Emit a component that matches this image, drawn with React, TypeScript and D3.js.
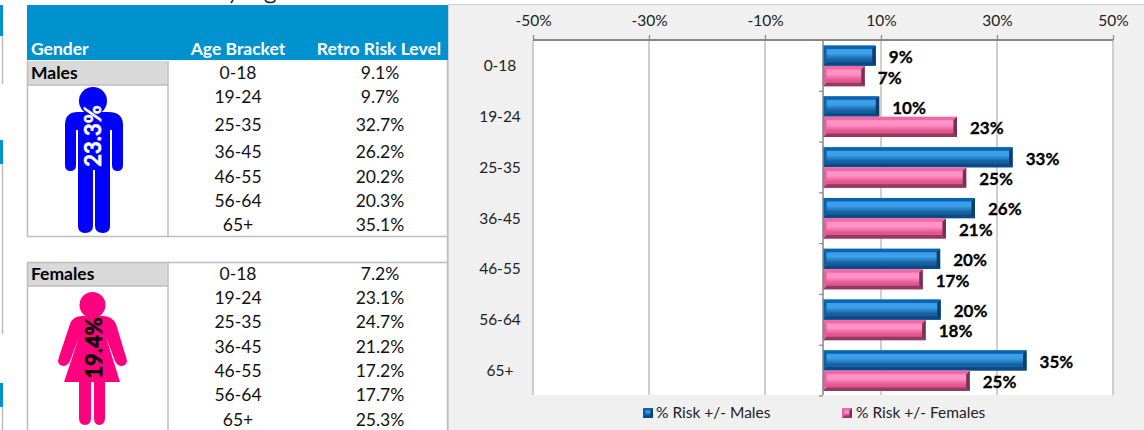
import { useEffect, useRef } from 'react'
import * as d3 from 'd3'

const ageBrackets = ['0-18', '19-24', '25-35', '36-45', '46-55', '56-64', '65+']
const malesRisk = [9.1, 9.7, 32.7, 26.2, 20.2, 20.3, 35.1]
const femalesRisk = [7.2, 23.1, 24.7, 21.2, 17.2, 17.7, 25.3]
const xTicks = [-50, -30, -10, 10, 30, 50]
const seriesNames = ['% Risk +/- Males', '% Risk +/- Females']
const headers = ['Gender', 'Age Bracket', 'Retro Risk Level']

// table row centres, the source spacing is uneven
const maleRowY = [73, 97, 125, 152, 177, 201, 225]
const femaleRowY = [274, 298, 322, 347, 371, 395, 420]

const FONT = 'Lato, "Open Sans", sans-serif'
const GRID = '#bfbfbf'
const TABLE_LINE = '#bdbdbd'
const HEADER_BLUE = '#0092cf'

const x = d3.scaleLinear().domain([-50, 50]).range([533, 1113])
const y0 = d3.scaleBand().domain(ageBrackets).range([40.5, 396]).paddingInner(0.19).paddingOuter(0.095)
const y1 = d3.scaleBand().domain(seriesNames).range([0, y0.bandwidth()]).padding(0.012)

const palettes = {
  male: { top: '#0d62ae', hi: '#3a9fea', lo: '#14609f', bottom: '#0b4a86', side: '#0a3c6c', left: '#0f5fa6', id: 'faceBlue' },
  female: { top: '#ee6aa6', hi: '#ff93c8', lo: '#e4558f', bottom: '#8f3a62', side: '#74304f', left: '#e0629a', id: 'facePink' },
}

function Bar({ left, right, top, h, p }: any) {
  const b = Math.min(3.5, h / 4)
  const pts = (a: number[][]) => a.map(d => d.join(',')).join(' ')
  return (
    <g filter="url(#soft)">
      <rect x={left} y={top} width={right - left} height={h} fill={`url(#${p.id})`} />
      <polygon points={pts([[left, top], [right, top], [right - b, top + b], [left + b, top + b]])} fill={p.top} />
      <polygon points={pts([[left, top + h], [right, top + h], [right - b, top + h - b], [left + b, top + h - b]])} fill={p.bottom} />
      <polygon points={pts([[right, top], [right, top + h], [right - b, top + h - b], [right - b, top + b]])} fill={p.side} />
      <polygon points={pts([[left, top], [left, top + h], [left + b, top + h - b], [left + b, top + b]])} fill={p.left} />
    </g>
  )
}

function Gradient({ p }: any) {
  return (
    <linearGradient id={p.id} x1="0" y1="0" x2="0" y2="1">
      <stop offset="0.2" stopColor={p.hi} />
      <stop offset="0.4" stopColor={p.hi} />
      <stop offset="0.7" stopColor={p.lo} />
    </linearGradient>
  )
}

function MaleIcon() {
  return (
    <g fill="#0000ff">
      <circle cx={93} cy={101} r={14} />
      <path d="M78 112H108Q123 112 123 125V165Q123 171 117.500 171Q112 171 112 165V130H110V226Q110 233 103 233Q95 233 95 226V170H93V226Q93 233 85 233Q78 233 78 226V130H76V165Q76 171 70.500 171Q65 171 65 165V125Q65 112 78 112Z" />
      <text transform="translate(93.500,136) rotate(-90)" textAnchor="middle" dy="0.35em" fontFamily={FONT} fontWeight={700} fontSize={22} fill="#fff" stroke="#fff" strokeWidth={0.5}>23.3%</text>
    </g>
  )
}

function FemaleIcon() {
  return (
    <g fill="#ff007f">
      <circle cx={92.500} cy={305} r={13} />
      <path d="M82 316H103Q112 316 116 324L126 357Q129 365 122 366Q117 366 115 361L106 337L120 382H105V418Q105 425 99 425Q94 425 94 418V382H91V418Q91 425 85 425Q79 425 79 418V382H64L79 337L70 361Q68 366 63 366Q56 365 59 357L70 324Q73 316 82 316Z" />
      <text transform="translate(94,348) rotate(-90)" textAnchor="middle" dy="0.35em" fontFamily={FONT} fontWeight={700} fontSize={22} fill="#000" stroke="#000" strokeWidth={0.5}>19.4%</text>
    </g>
  )
}

function RiskTable({ label, rows, rowY, top, cellBottom, bottom }: any) {
  return (
    <g fontFamily={FONT}>
      <rect x={28} y={top} width={139.500} height={cellBottom - top} fill="#d9d9d9" />
      <text x={31} y={rowY[0]} dy="0.35em" fontWeight={700} fontSize={17.500} fill="#000">{label}</text>
      {ageBrackets.map((a, i) => (
        <g key={a} fontSize={17.500} fill="#111" textAnchor="middle">
          <text x={238} y={rowY[i]} dy="0.35em">{a}</text>
          <text x={380} y={rowY[i]} dy="0.35em">{rows[i].toFixed(1)}%</text>
        </g>
      ))}
      <path d={`M27.500 ${top}V${bottom}M168 ${top}V${bottom}M28 ${cellBottom}H168`} stroke={TABLE_LINE} strokeWidth={1.500} fill="none" />
    </g>
  )
}

export default function App() {
  const axisRef = useRef<SVGGElement>(null)

  useEffect(() => {
    const g = d3.select(axisRef.current)
    g.selectAll('*').remove()
    g.call(d3.axisTop(x).tickValues(xTicks).tickSize(5).tickFormat((d: any) => `${d}%`) as any)
    g.select('.domain').attr('stroke', '#868686').attr('stroke-width', 2).attr('d', 'M533,0H1113')
    g.selectAll('.tick line').attr('stroke', '#868686').attr('stroke-width', 1.2)
    g.selectAll('.tick text')
      .attr('font-family', FONT)
      .attr('font-size', 15.500)
      .attr('fill', '#222')
      .attr('y', -14)
  }, [])

  return (
    <svg width={1144} height={430} style={{ position: 'absolute', left: 0, top: 0, background: '#fff' }}>
      <defs>
        <Gradient p={palettes.male} />
        <Gradient p={palettes.female} />
        <filter id="soft" x="-5%" y="-10%" width="110%" height="120%">
          <feGaussianBlur stdDeviation="0.5" />
        </filter>
      </defs>

      {/* slivers of the neighbouring sheet at the left edge */}
      <g fill={HEADER_BLUE}>
        <rect x={0} y={5} width={3} height={31} />
        <rect x={0} y={140} width={3} height={24} />
        <rect x={0} y={383} width={3} height={24} />
      </g>
      <path d="M2.500 36V84M2.500 164V334M2.500 407V430" stroke={TABLE_LINE} strokeWidth={1.500} fill="none" />

      {/* cut off title descenders */}
      <path d="M233 0L231 3M265 0Q267 3 272 2.500Q275 2 275 0" stroke="#222" strokeWidth={1.500} fill="none" />

      {/* left table */}
      <rect x={27} y={5} width={421} height={55} fill={HEADER_BLUE} />
      <g fontFamily={FONT} fontWeight={700} fontSize={17.500} fill="#fff">
        <text x={31} y={55}>{headers[0]}</text>
        <text x={238} y={55} textAnchor="middle">{headers[1]}</text>
        <text x={379} y={55} textAnchor="middle">{headers[2]}</text>
      </g>
      <RiskTable label="Males" rows={malesRisk} rowY={maleRowY} top={61} cellBottom={85} bottom={236} />
      <RiskTable label="Females" rows={femalesRisk} rowY={femaleRowY} top={263} cellBottom={286} bottom={430} />
      <path d="M27 236.500H448M27 262.500H448M447.500 60V430" stroke={TABLE_LINE} strokeWidth={1.500} fill="none" />
      <MaleIcon />
      <FemaleIcon />

      {/* chart area */}
      <rect x={448} y={4} width={696} height={426} fill="#f0f0f0" />
      <path d="M448 4.500H1144M448.500 4V430" stroke="#cfcfcf" strokeWidth={1} fill="none" />
      <rect x={x(-50)} y={40} width={x(50) - x(-50)} height={355} fill="#fff" />
      {xTicks.map(t => (
        <line key={t} x1={x(t)} x2={x(t)} y1={40} y2={395} stroke={GRID} strokeWidth={1.500} />
      ))}
      <g ref={axisRef} transform="translate(0,40)" />

      {ageBrackets.map((a, i) => {
        const top = y0(a)!
        const mTop = top + y1(seriesNames[0])!
        const fTop = top + y1(seriesNames[1])!
        const h = y1.bandwidth()
        return (
          <g key={a}>
            <Bar left={x(0)} right={x(malesRisk[i])} top={mTop} h={h} p={palettes.male} />
            <Bar left={x(0)} right={x(femalesRisk[i])} top={fTop} h={h} p={palettes.female} />
            <g fontFamily={FONT} fontWeight={700} fontSize={17} fill="#000" stroke="#000" strokeWidth={0.3}>
              <text x={x(malesRisk[i]) + 13} y={mTop + h / 2 + 1.500} dy="0.35em">{Math.round(malesRisk[i])}%</text>
              <text x={x(femalesRisk[i]) + 13} y={fTop + h / 2 + 1.500} dy="0.35em">{Math.round(femalesRisk[i])}%</text>
            </g>
            <text x={500} y={top + y0.bandwidth() / 2} dy="0.35em" textAnchor="middle" fontFamily={FONT} fontSize={15.500} fill="#222">{a}</text>
          </g>
        )
      })}

      {/* vertical axis at zero */}
      <line x1={x(0)} x2={x(0)} y1={40} y2={395} stroke="#868686" strokeWidth={1.500} />
      {ageBrackets.map(a => {
        const yy = y0(a)! + y0.bandwidth() + (y0.step() - y0.bandwidth()) / 2
        return <line key={a} x1={x(0) - 4} x2={x(0)} y1={yy} y2={yy} stroke="#868686" strokeWidth={1.200} />
      })}

      {/* legend */}
      <g fontFamily={FONT} fontSize={15.500} fill="#222">
        <Bar left={643} right={653} top={408} h={10} p={palettes.male} />
        <text x={656} y={413} dy="0.35em">{seriesNames[0]}</text>
        <Bar left={842} right={852} top={408} h={10} p={palettes.female} />
        <text x={856} y={413} dy="0.35em">{seriesNames[1]}</text>
      </g>
    </svg>
  )
}
